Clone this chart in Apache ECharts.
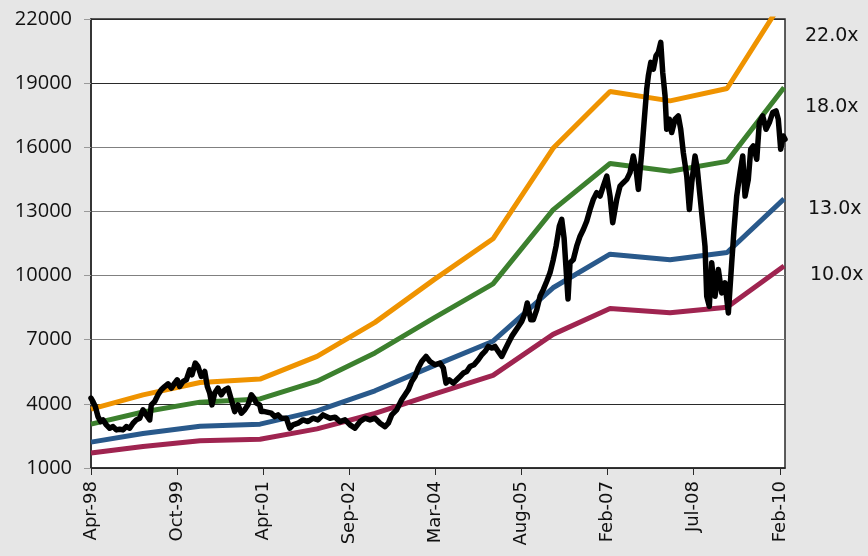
<!DOCTYPE html>
<html>
<head>
<meta charset="utf-8">
<script src="https://cdn.jsdelivr.net/npm/echarts@6/dist/echarts.min.js"></script>
<style>
  html, body { margin: 0; padding: 0; background: #e6e6e6; }
  #chart { width: 868px; height: 556px; }
</style>
</head>
<body>
<div id="chart"></div>
<script>
// x positions are in tick units along the axis: 0 = Apr-98, 8 = Feb-10
const tickLabels = ['Apr-98', 'Oct-99', 'Apr-01', 'Sep-02', 'Mar-04', 'Aug-05', 'Feb-07', 'Jul-08', 'Feb-10']
const yTicks = [1000, 4000, 7000, 10000, 13000, 16000, 19000, 22000]

// index (black line)
const indexPos = [
  0, 0.023, 0.05, 0.081, 0.113, 0.139, 0.178, 0.217, 0.256, 0.294, 0.333, 0.372, 0.41, 0.449, 0.488, 0.526,
  0.566, 0.604, 0.642, 0.682, 0.70, 0.74, 0.778, 0.816, 0.856, 0.894, 0.933, 0.972, 1.002, 1.03, 1.069, 1.107,
  1.146, 1.173, 1.211, 1.243, 1.281, 1.321, 1.351, 1.379, 1.405, 1.437, 1.475, 1.513, 1.553, 1.591, 1.63, 1.669,
  1.707, 1.746, 1.785, 1.823, 1.862, 1.893, 1.92, 1.959, 1.978, 2.017, 2.056, 2.094, 2.134, 2.172, 2.21, 2.268,
  2.308, 2.346, 2.404, 2.462, 2.52, 2.578, 2.636, 2.695, 2.718, 2.776, 2.834, 2.892, 2.95, 3.008, 3.066, 3.124,
  3.182, 3.24, 3.298, 3.357, 3.415, 3.453, 3.492, 3.55, 3.608, 3.647, 3.685, 3.725, 3.763, 3.801, 3.841, 3.891,
  3.937, 3.995, 4.053, 4.092, 4.123, 4.161, 4.208, 4.247, 4.286, 4.324, 4.364, 4.402, 4.448, 4.498, 4.538, 4.576,
  4.614, 4.654, 4.692, 4.73, 4.77, 4.808, 4.847, 4.886, 4.925, 4.963, 5.002, 5.041, 5.067, 5.107, 5.137, 5.177,
  5.215, 5.253, 5.293, 5.331, 5.369, 5.401, 5.439, 5.467, 5.494, 5.54, 5.563, 5.602, 5.641, 5.68, 5.718, 5.757,
  5.796, 5.834, 5.873, 5.912, 5.95, 5.99, 6.028, 6.059, 6.106, 6.144, 6.182, 6.222, 6.26, 6.298, 6.33, 6.357,
  6.396, 6.423, 6.454, 6.473, 6.501, 6.531, 6.562, 6.589, 6.617, 6.64, 6.667, 6.686, 6.717, 6.744, 6.783, 6.821,
  6.849, 6.879, 6.919, 6.949, 6.977, 7.015, 7.042, 7.073, 7.104, 7.131, 7.151, 7.181, 7.209, 7.247, 7.286, 7.325,
  7.363, 7.402, 7.441, 7.468, 7.499, 7.538, 7.569, 7.596, 7.634, 7.662, 7.692, 7.732, 7.762, 7.801, 7.84, 7.878,
  7.917, 7.956, 7.982, 8.01, 8.04, 8.06
]
const indexValues = [
  4267, 4108, 3873, 3405, 3170, 3250, 3016, 2861, 2936, 2781, 2814, 2781, 2936, 2861, 3095, 3250,
  3330, 3719, 3484, 3250, 3953, 4108, 4422, 4656, 4811, 4938, 4736, 4970, 5125, 4811, 5045, 5125,
  5594, 5359, 5908, 5748, 5280, 5514, 4811, 4502, 3953, 4502, 4736, 4422, 4656, 4736, 4188, 3639,
  3953, 3564, 3719, 3953, 4422, 4267, 4033, 3953, 3639, 3639, 3600, 3564, 3405, 3484, 3330, 3330,
  2861, 3016, 3095, 3250, 3170, 3330, 3250, 3484, 3405, 3330, 3377, 3170, 3250, 3016, 2861, 3170,
  3330, 3250, 3330, 3095, 2936, 3095, 3484, 3719, 4188, 4422, 4656, 5045, 5280, 5673, 5983, 6217,
  5983, 5828, 5908, 5673, 4970, 5125, 4970, 5125, 5280, 5439, 5514, 5748, 5828, 6063, 6297, 6452,
  6686, 6611, 6686, 6452, 6217, 6531, 6845, 7155, 7389, 7623, 7858, 8252, 8720, 7938, 7938, 8406,
  9030, 9344, 9733, 10127, 10750, 11373, 12311, 12625, 11767, 8900, 10595, 10750, 11373, 11842, 12156, 12545,
  13094, 13563, 13877, 13717, 14186, 14655, 13717, 12470, 13563, 14186, 14345, 14500, 14814, 15592, 14969, 14031,
  15752, 17158, 18719, 19342, 19970, 19656, 20280, 20439, 20908, 19502, 18405, 16844, 17313, 16689, 17313, 17467,
  16844, 15752, 14655, 13094, 14345, 15592, 14969, 13717, 12470, 11373, 9030, 8561, 10595, 9030, 10281, 9189,
  9658, 8252, 10595, 12156, 13717, 14814, 15592, 13717, 14500, 15906, 16061, 15438, 17158, 17467, 16844, 17158,
  17627, 17702, 17313, 15906, 16530, 16375
]

// P/E band lines, one vertex per fiscal year end
const bandPos = [0, 0.604, 1.266, 1.963, 2.625, 3.298, 3.984, 4.669, 5.366, 6.028, 6.725, 7.387, 8.049]
const band22 = [3750, 4420, 5000, 5160, 6220, 7810, 9810, 11720, 15950, 18610, 18170, 18750, 22950]
const band18 = [3050, 3620, 4080, 4230, 5060, 6380, 8020, 9610, 13070, 15240, 14880, 15340, 18800]
const band13 = [2210, 2610, 2950, 3050, 3670, 4610, 5790, 6930, 9430, 11000, 10740, 11080, 13590]
const band10 = [1700, 2010, 2270, 2345, 2830, 3550, 4460, 5330, 7250, 8460, 8260, 8520, 10450]
const bandNames = ['22.0x', '18.0x', '13.0x', '10.0x']
const bandColors = ['#ef9300', '#3c802e', '#29598b', '#9f2450']

const chart = echarts.init(document.getElementById('chart'))

const pairs = (xs, ys) => xs.map((x, i) => [x, ys[i]])

let series = [band22, band18, band13, band10].map((vals, i) => ({
  name: bandNames[i],
  type: 'line',
  data: pairs(bandPos, vals),
  showSymbol: false,
  lineStyle: { color: bandColors[i], width: 5 },
  z: 2
}))
series.push({
  name: 'Index',
  type: 'line',
  data: pairs(indexPos, indexValues),
  showSymbol: false,
  lineStyle: { color: '#000', width: 5.5, join: 'round', cap: 'round' },
  z: 3
})

// band labels on the right side
const labelTops = [27, 98, 200, 266]
const labelLefts = [805, 805, 808, 810]

let option = {
  backgroundColor: '#e6e6e6',
  animation: false,
  grid: {
    left: 91,
    right: 83,
    top: 19,
    bottom: 88,
    show: true,
    backgroundColor: '#fff',
    borderColor: '#2a2a2a',
    borderWidth: 1.5
  },
  xAxis: {
    type: 'value',
    min: 0,
    max: 8.06,
    axisLine: { show: true, lineStyle: { color: '#2a2a2a', width: 1.5 } },
    axisTick: { show: true, length: 7, customValues: tickLabels.map((_, i) => i), lineStyle: { color: '#2a2a2a' } },
    axisLabel: {
      customValues: tickLabels.map((_, i) => i),
      rotate: 90,
      margin: 13,
      color: '#111',
      fontFamily: 'DejaVu Sans',
      fontSize: 18,
      formatter: v => tickLabels[Math.round(v)]
    },
    splitLine: { show: false }
  },
  yAxis: {
    type: 'value',
    min: yTicks[0],
    max: yTicks[yTicks.length - 1],
    interval: yTicks[1] - yTicks[0],
    axisLine: { show: true, lineStyle: { color: '#2a2a2a', width: 1.5 } },
    axisTick: { show: true, length: 7, lineStyle: { color: '#999' } },
    axisLabel: {
      margin: 19,
      color: '#111',
      fontFamily: 'Open Sans',
      fontSize: 20,
      formatter: v => String(v)
    },
    splitLine: {
      show: true,
      lineStyle: { color: ['#2a2a2a', '#2a2a2a', '#808080', '#808080', '#808080', '#808080', '#2a2a2a', '#2a2a2a'], width: 1 }
    }
  },
  graphic: bandNames.map((name, i) => ({
    type: 'text',
    left: labelLefts[i],
    top: labelTops[i],
    style: { text: name, fill: '#111', font: '19px "DejaVu Sans"' }
  })),
  series: series
}

chart.setOption(option)
</script>
</body>
</html>
